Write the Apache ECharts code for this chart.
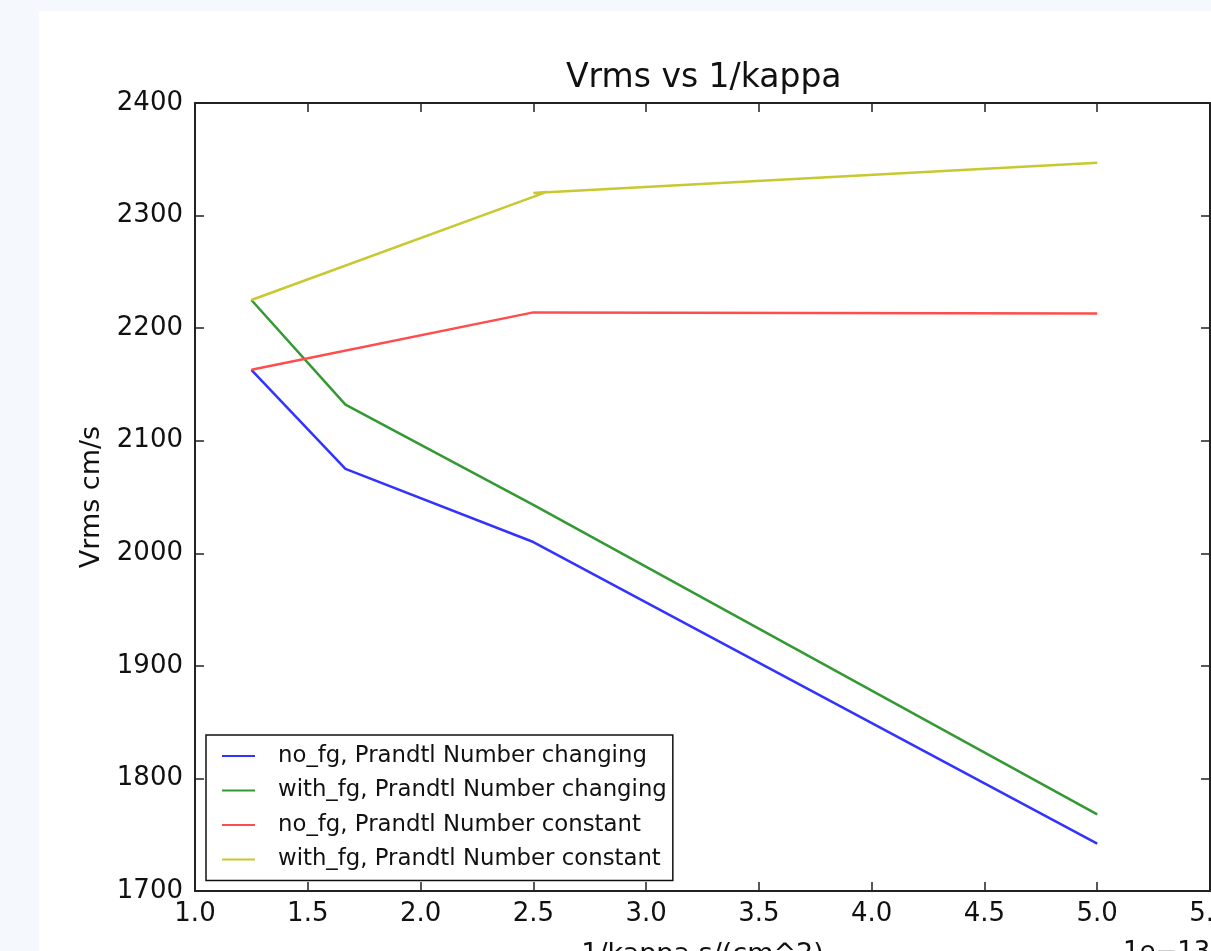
<!DOCTYPE html>
<html>
<head>
<meta charset="utf-8">
<script src="https://cdn.jsdelivr.net/npm/echarts@6/dist/echarts.min.js"></script>
<style>
    body { margin: 0; background: #f5f8fc; }
    .panel { position: absolute; left: 39px; top: 11px; width: 1172px; height: 940px; background: #fff; }
    #vrmsChart { position: absolute; left: 0; top: 0; width: 1211px; height: 951px; }
</style>
</head>
<body>
<div class="panel"></div>
<div id="vrmsChart"></div>
<script>
// 1/kappa (x 1e-13) and Vrms
var kappaChanging = [1.25, 1.667, 2.5, 5.0];
var noFgChanging = [2163, 2075, 2010, 1742];
var withFgChanging = [2225, 2132, 2043, 1768];
var kappaNoFgConstant = [1.25, 2.5, 5.0];
var noFgConstant = [2163, 2214, 2213];
var kappaWithFgConstant = [1.25, 2.56, 2.5, 5.0];
var withFgConstant = [2225, 2321, 2320, 2347];

var seriesNames = [
    'no_fg, Prandtl Number changing',
    'with_fg, Prandtl Number changing',
    'no_fg, Prandtl Number constant',
    'with_fg, Prandtl Number constant'
];
var colors = ['#3333ff', '#339933', '#ff4d4d', '#c8c830'];

function pairs(xs, ys) {
    var out = [];
    for (var i = 0; i < xs.length; i++) {
        out.push([xs[i], ys[i]]);
    }
    return out;
}

var font = 'DejaVu Sans';
var frame = { show: true, lineStyle: { color: '#222', width: 2 } };
var tick = { show: true, inside: true, length: 9, lineStyle: { color: '#222', width: 1.5 } };

var option = {
    color: colors,
    animation: false,
    textStyle: { fontFamily: font },
    title: {
        text: 'Vrms vs 1/kappa',
        left: 561,
        top: 57,
        textStyle: { fontFamily: font, fontSize: 33, fontWeight: 'normal', color: '#111' }
    },
    grid: { left: 195, top: 103, right: 1, bottom: 60, outerBoundsMode: 'none', containLabel: false },
    legend: {
        orient: 'vertical',
        left: 206,
        top: 735,
        padding: [9, 6, 9, 16],
        itemWidth: 33,
        itemHeight: 2,
        itemGap: 10.5,
        icon: 'rect',
        borderColor: '#111',
        borderWidth: 1.5,
        borderRadius: 0,
        textStyle: { fontFamily: font, fontSize: 22.8, color: '#111', lineHeight: 24, padding: [0, 0, 0, 18] },
        data: seriesNames
    },
    xAxis: [
        {
            type: 'value',
            min: 1.0,
            max: 5.5,
            interval: 0.5,
            name: '1/kappa s/(cm^2)',
            nameLocation: 'middle',
            nameGap: 50,
            nameTextStyle: { fontFamily: font, fontSize: 27, color: '#111' },
            axisLine: frame,
            axisTick: tick,
            splitLine: { show: false },
            axisLabel: {
                fontFamily: font, fontSize: 26, color: '#111', margin: 10,
                showMaxLabel: true,
                formatter: function (v) { return v.toFixed(1); }
            }
        },
        {
            type: 'value',
            position: 'top',
            min: 1.0,
            max: 5.5,
            interval: 0.5,
            axisLine: frame,
            axisTick: tick,
            axisLabel: { show: false },
            splitLine: { show: false }
        }
    ],
    yAxis: [
        {
            type: 'value',
            min: 1700,
            max: 2400,
            interval: 100,
            name: 'Vrms cm/s',
            nameLocation: 'middle',
            nameGap: 90,
            nameTextStyle: { fontFamily: font, fontSize: 27, color: '#111' },
            axisLine: frame,
            axisTick: tick,
            splitLine: { show: false },
            axisLabel: {
                fontFamily: font, fontSize: 26, color: '#111', margin: 12,
                formatter: function (v) { return String(v); }
            }
        },
        {
            type: 'value',
            position: 'right',
            min: 1700,
            max: 2400,
            interval: 100,
            axisLine: frame,
            axisTick: tick,
            axisLabel: { show: false },
            splitLine: { show: false }
        }
    ],
    graphic: [
        {
            type: 'text',
            left: 1123,
            top: 940,
            style: { text: '1e\u221213', fontFamily: font, fontSize: 26, fill: '#111' }
        }
    ],
    series: [
        { name: seriesNames[0], type: 'line', symbol: 'none', lineStyle: { width: 2.5 }, data: pairs(kappaChanging, noFgChanging) },
        { name: seriesNames[1], type: 'line', symbol: 'none', lineStyle: { width: 2.5 }, data: pairs(kappaChanging, withFgChanging) },
        { name: seriesNames[2], type: 'line', symbol: 'none', lineStyle: { width: 2.5 }, data: pairs(kappaNoFgConstant, noFgConstant) },
        { name: seriesNames[3], type: 'line', symbol: 'none', lineStyle: { width: 2.5 }, data: pairs(kappaWithFgConstant, withFgConstant) }
    ]
};

var chart = echarts.init(document.getElementById('vrmsChart'));
chart.setOption(option);
</script>
</body>
</html>
